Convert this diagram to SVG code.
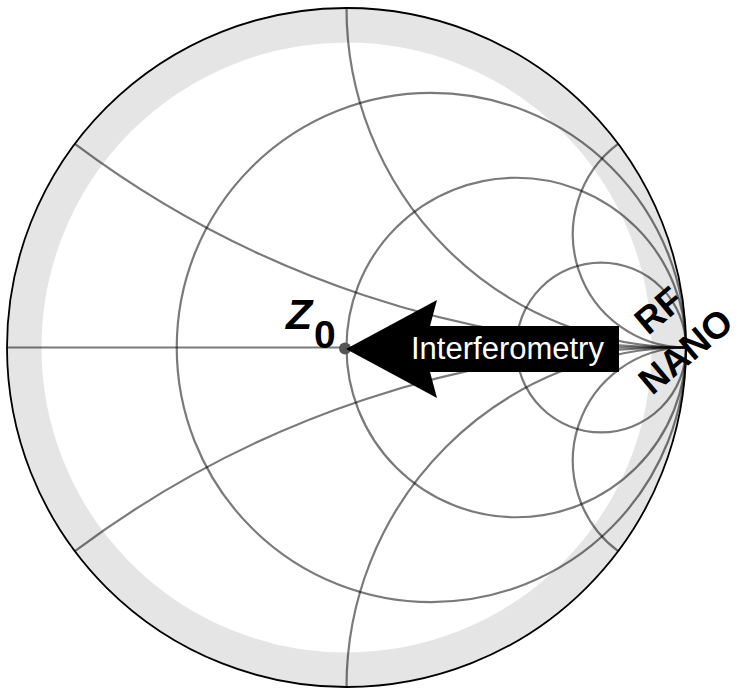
<svg xmlns="http://www.w3.org/2000/svg" width="739" height="694" viewBox="0 0 739 694">
<style>
.grid{fill:none;stroke:#000;stroke-opacity:0.52;stroke-width:2.2}
.lbl{font-family:"Liberation Sans",Arial,sans-serif;font-weight:bold;fill:#000}
</style>
<rect width="739" height="694" fill="#fff"/>
<g id="band">
<circle cx="346.5" cy="347.5" r="322.25" fill="none" stroke="#e5e5e5" stroke-width="34.5"/>
</g>
<g id="grid" class="grid">
<line x1="7" y1="347.5" x2="686" y2="347.5"/>
<circle cx="431.375" cy="347.5" r="254.625"/>
<circle cx="516.25" cy="347.5" r="169.75"/>
<circle cx="601.125" cy="347.5" r="84.875"/>
<path d="M74.9,143.8 A1018.5,1018.5 0 0 0 686,347.5"/>
<path d="M346.5,8 A339.5,339.5 0 0 0 686,347.5"/>
<path d="M618.1,143.8 A113.17,113.17 0 0 0 686,347.5"/>
<path d="M74.9,551.2 A1018.5,1018.5 0 0 1 686,347.5"/>
<path d="M346.5,687 A339.5,339.5 0 0 1 686,347.5"/>
<path d="M618.1,551.2 A113.17,113.17 0 0 1 686,347.5"/>
</g>
<g id="outline">
<circle cx="346.5" cy="347.5" r="339.5" fill="none" stroke="#000" stroke-width="1.8"/>
</g>
<g id="z0">
<circle cx="345" cy="348.5" r="6" fill="#555"/>
<text class="lbl" x="286" y="329" font-size="43" font-style="italic">Z</text>
<text class="lbl" x="314" y="347.5" font-size="39">0</text>
</g>
<g id="arrow">
<polygon points="346,349 437,300 430,326 619,326 619,372 430,372 437,398" fill="#000"/>
<text x="411" y="358.5" font-family="Liberation Sans,Arial,sans-serif" font-size="31" fill="#fff">Interferometry</text>
</g>
<g id="rf">
<text class="lbl" font-size="37" transform="translate(648,336) rotate(-40)">RF</text>
</g>
<g id="nano">
<text class="lbl" font-size="37" transform="translate(652,396) rotate(-40)">NANO</text>
</g>
</svg>
